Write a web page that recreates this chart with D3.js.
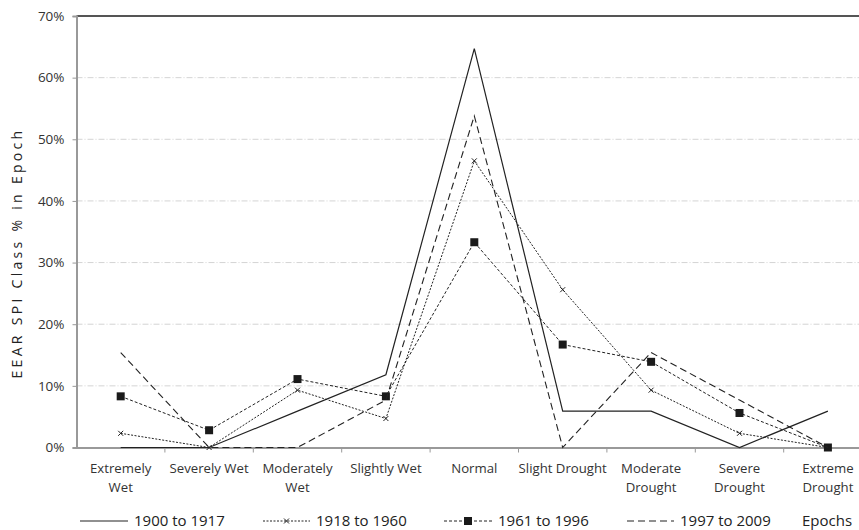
<!DOCTYPE html>
<html>
<head>
<meta charset="utf-8">
<script src="https://cdn.jsdelivr.net/npm/d3@7"></script>
<style>
  body { margin: 0; background: #fff; }
  svg { font-family: "Open Sans", "Noto Sans", sans-serif; }
</style>
</head>
<body>
<div id="chart"></div>
<script>
// SPI classes on the x axis
const categories = [
  ['Extremely', 'Wet'], ['Severely Wet'], ['Moderately', 'Wet'], ['Slightly Wet'],
  ['Normal'], ['Slight Drought'], ['Moderate', 'Drought'], ['Severe', 'Drought'],
  ['Extreme', 'Drought']
];
const yTicks = [0, 10, 20, 30, 40, 50, 60, 70];

// % of years of each epoch in each class
const epoch1900 = [0, 0, 5.9, 11.8, 64.7, 5.9, 5.9, 0, 5.9];
const epoch1918 = [2.3, 0, 9.3, 4.7, 46.5, 25.6, 9.3, 2.3, 0];
const epoch1961 = [8.3, 2.8, 11.1, 8.3, 33.3, 16.7, 13.9, 5.6, 0];
const epoch1997 = [15.4, 0, 0, 7.7, 53.8, 0, 15.4, 7.7, 0];

const series = [
  { name: '1900 to 1917', values: epoch1900, dash: null, width: 1.2, marker: null },
  { name: '1918 to 1960', values: epoch1918, dash: '2,1.5', width: 1, marker: 'x' },
  { name: '1961 to 1996', values: epoch1961, dash: '3,2', width: 1, marker: 'square' },
  { name: '1997 to 2009', values: epoch1997, dash: '7,4', width: 1.1, marker: null }
];

const width = 859, height = 530;
const svg = d3.select('#chart').append('svg')
  .attr('width', width).attr('height', height);

const plotLeft = 76.5, plotTop = 16, plotBottom = 447.5;
const step = 88.4;

const x = d3.scaleBand()
  .domain(d3.range(categories.length))
  .range([plotLeft, plotLeft + step * categories.length])
  .padding(0);
const y = d3.scaleLinear().domain([0, 70]).range([plotBottom, plotTop]);
const cx = i => x(i) + x.bandwidth() / 2;

// gridlines
svg.append('g')
  .selectAll('line')
  .data(yTicks.filter(d => d > 0 && d < 70))
  .join('line')
  .attr('x1', plotLeft).attr('x2', width)
  .attr('y1', d => y(d)).attr('y2', d => y(d))
  .attr('stroke', '#d4d4d4').attr('stroke-width', 1)
  .attr('stroke-dasharray', '6,2,1,2');

// top border
svg.append('line')
  .attr('x1', plotLeft).attr('x2', width)
  .attr('y1', y(70)).attr('y2', y(70))
  .attr('stroke', '#555').attr('stroke-width', 2);

// y axis
const yAxis = svg.append('g')
  .attr('transform', `translate(${plotLeft},0)`)
  .call(d3.axisLeft(y).tickValues(yTicks).tickSize(4).tickFormat(d => d + '%'));
yAxis.select('.domain').attr('stroke', '#999').attr('stroke-width', 2);
yAxis.selectAll('.tick line').attr('stroke', '#999');
yAxis.selectAll('.tick text')
  .attr('font-size', 13.5).attr('fill', '#333').attr('x', -12)
  .attr('font-family', '"Open Sans", sans-serif');

// x axis
const xAxis = svg.append('g')
  .attr('transform', `translate(0,${plotBottom})`)
  .call(d3.axisBottom(x).tickSize(0).tickFormat(''));
xAxis.select('.domain').attr('stroke', '#999').attr('stroke-width', 2);
xAxis.selectAll('.tick').remove();

// x tick marks between categories
svg.append('g')
  .selectAll('line')
  .data(d3.range(1, categories.length))
  .join('line')
  .attr('x1', d => x(d)).attr('x2', d => x(d))
  .attr('y1', plotBottom).attr('y2', plotBottom + 5)
  .attr('stroke', '#999').attr('stroke-width', 1);

// category labels
const catLabels = svg.append('g')
  .selectAll('text')
  .data(categories)
  .join('text')
  .attr('x', (d, i) => cx(i))
  .attr('y', 473)
  .attr('text-anchor', 'middle')
  .attr('font-size', 13.2)
  .attr('fill', '#333');
catLabels.selectAll('tspan')
  .data(d => d)
  .join('tspan')
  .attr('x', function () { return this.parentNode.getAttribute('x'); })
  .attr('dy', (d, i) => i === 0 ? 0 : 18.5)
  .text(d => d);

// y axis title
svg.append('text')
  .attr('transform', `translate(22,253) rotate(-90)`)
  .attr('text-anchor', 'middle')
  .attr('font-size', 14)
  .attr('letter-spacing', 3.3)
  .attr('fill', '#222')
  .text('EEAR SPI Class % in Epoch');

// lines
const line = d3.line()
  .x((d, i) => cx(i))
  .y(d => y(d));

const drawMarker = (g, kind, px, py, sz) => {
  if (kind === 'square') {
    g.append('rect')
      .attr('x', px - sz / 2).attr('y', py - sz / 2)
      .attr('width', sz).attr('height', sz)
      .attr('fill', '#1a1a1a');
  } else if (kind === 'x') {
    const s = sz / 2;
    g.append('path')
      .attr('d', `M${px - s},${py - s}L${px + s},${py + s}M${px - s},${py + s}L${px + s},${py - s}`)
      .attr('stroke', '#222').attr('stroke-width', 1);
  }
};

series.forEach(s => {
  const g = svg.append('g');
  g.append('path')
    .datum(s.values)
    .attr('d', line)
    .attr('fill', 'none')
    .attr('stroke', '#222')
    .attr('stroke-width', s.width)
    .attr('stroke-dasharray', s.dash);
  s.values.forEach((v, i) => drawMarker(g, s.marker, cx(i), y(v), s.marker === 'square' ? 8 : 5));
});

// legend
const legendY = 521;
const legendItems = [
  { x0: 80, x1: 128, tx: 134 },
  { x0: 263, x1: 310, tx: 316 },
  { x0: 444, x1: 492, tx: 498 },
  { x0: 627, x1: 674, tx: 680 }
];
series.forEach((s, k) => {
  const it = legendItems[k];
  const g = svg.append('g');
  g.append('line')
    .attr('x1', it.x0).attr('x2', it.x1)
    .attr('y1', legendY).attr('y2', legendY)
    .attr('stroke', '#222').attr('stroke-width', s.width)
    .attr('stroke-dasharray', s.dash);
  drawMarker(g, s.marker, (it.x0 + it.x1) / 2, legendY, s.marker === 'square' ? 8 : 5);
  g.append('text')
    .attr('x', it.tx).attr('y', 526)
    .attr('font-size', 15).attr('fill', '#222')
    .text(s.name);
});
svg.append('text')
  .attr('x', 802).attr('y', 526)
  .attr('font-size', 15).attr('fill', '#222')
  .text('Epochs');
</script>
</body>
</html>
